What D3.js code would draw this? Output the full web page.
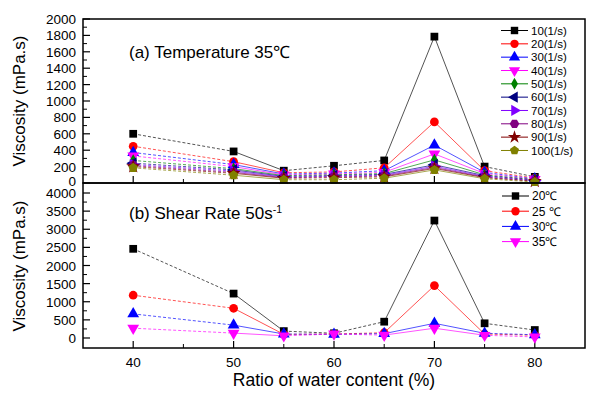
<!DOCTYPE html>
<html>
<head>
<meta charset="utf-8">
<script src="https://cdn.jsdelivr.net/npm/d3@7"></script>
<style>
  body { margin: 0; background: #fff; }
  text { font-family: "Liberation Sans", Arial, sans-serif; }
</style>
</head>
<body>
<div class="mainView"></div>
<script>
// water content ratio (%)
let ratios = [40, 50, 55, 60, 65, 70, 75, 80];

// panel (a): viscosity at 35C for different shear rates
let shearNames = ["10(1/s)", "20(1/s)", "30(1/s)", "40(1/s)", "50(1/s)",
                  "60(1/s)", "70(1/s)", "80(1/s)", "90(1/s)", "100(1/s)"];
let shear10  = [600, 385, 150, 210, 275, 1785, 200, 75];
let shear20  = [448, 260, 125, 135, 185, 745, 150, 60];
let shear30  = [372, 225, 110, 120, 150, 462, 130, 50];
let shear40  = [330, 200, 100, 110, 130, 355, 115, 45];
let shear50  = [275, 175, 90, 100, 115, 282, 100, 40];
let shear60  = [242, 160, 80, 90, 105, 222, 90, 35];
let shear70  = [225, 145, 72, 82, 95, 205, 80, 30];
let shear80  = [212, 130, 65, 75, 85, 190, 72, 25];
let shear90  = [200, 118, 58, 65, 75, 178, 65, 20];
let shear100 = [185, 95, 40, 40, 58, 160, 52, 12];

// panel (b): viscosity at shear rate 50 1/s for different temperatures
let tempNames = ["20\u2103", "25 \u2103", "30\u2103", "35\u2103"];
let temp20 = [2460, 1225, 190, 130, 450, 3240, 405, 220];
let temp25 = [1180, 820, 100, 110, 145, 1445, 110, 75];
let temp30 = [665, 355, 110, 100, 120, 405, 130, 90];
let temp35 = [270, 135, 60, 110, 80, 270, 75, 30];

let yTicksA = d3.range(0, 2001, 200);
let yTicksB = d3.range(0, 4001, 500);
let xTicks = [40, 50, 60, 70, 80];

function buildChart(){
    let width = 596, height = 398;
    let margin = { left: 83, right: 11 };
    let svg = d3.select(".mainView").append("svg")
        .attr("width", width).attr("height", height);

    let xScale = d3.scaleLinear().domain([35, 85]).range([margin.left, width - margin.right]);
    let yA = d3.scaleLinear().domain([0, 2000]).range([183, 19]);
    let yB = d3.scaleLinear().domain([-276, 4276]).range([348, 183]);

    let seriesA = [shear10, shear20, shear30, shear40, shear50, shear60, shear70, shear80, shear90, shear100];
    let colorsA = ["#000000", "#ff0000", "#0000ff", "#ff00ff", "#008000",
                   "#000080", "#8000ff", "#800080", "#800000", "#808000"];
    let shapesA = ["square", "circle", "up", "down", "diamond", "left", "right", "hexagon", "star", "pentagon"];

    let seriesB = [temp20, temp25, temp30, temp35];
    let colorsB = ["#000000", "#ff0000", "#0000ff", "#ff00ff"];
    let shapesB = ["square", "circle", "up", "down"];

    // which segment is dashed (the original plot mixes them)
    let dashedSeg = [true, false, true, true, false, false, true];

    drawPanel(svg, xScale, yA, yTicksA, 100, seriesA, colorsA, shapesA, dashedSeg, 183, 3);
    drawPanel(svg, xScale, yB, yTicksB, 250, seriesB, colorsB, shapesB, dashedSeg, 348, 5.5);

    // frames
    svg.append("rect").attr("x", xScale(35)).attr("y", yA(2000))
        .attr("width", xScale(85) - xScale(35)).attr("height", yA(0) - yA(2000))
        .attr("fill", "none").attr("stroke", "#000").attr("stroke-width", 1.5);
    svg.append("rect").attr("x", xScale(35)).attr("y", 183)
        .attr("width", xScale(85) - xScale(35)).attr("height", 348 - 183)
        .attr("fill", "none").attr("stroke", "#000").attr("stroke-width", 1.5);

    // x tick labels and title
    svg.selectAll(".xlab").data(xTicks).enter().append("text")
        .attr("x", d => xScale(d)).attr("y", 367)
        .attr("text-anchor", "middle").style("font-size", "13.5px")
        .text(d => d);
    svg.append("text").attr("x", 334).attr("y", 386).attr("text-anchor", "middle")
        .style("font-size", "17.5px").text("Ratio of water content (%)");

    // y titles
    svg.append("text").attr("transform", "translate(25,101) rotate(-90)")
        .attr("text-anchor", "middle").style("font-size", "17px").text("Viscosity (mPa.s)");
    svg.append("text").attr("transform", "translate(25,266) rotate(-90)")
        .attr("text-anchor", "middle").style("font-size", "17px").text("Viscosity (mPa.s)");

    // panel titles
    svg.append("text").attr("x", 129).attr("y", 58).style("font-size", "17px")
        .text("(a) Temperature 35\u2103");
    let tb = svg.append("text").attr("x", 129).attr("y", 219).style("font-size", "17px");
    tb.append("tspan").text("(b) Shear Rate 50s");
    tb.append("tspan").attr("dy", -6).style("font-size", "10.5px").text("-1");

    // legends
    legend(svg, shearNames, colorsA, shapesA, 501, 30.5, 13.33, 11.5);
    legend(svg, tempNames, colorsB, shapesB, 502, 196, 15.2, 12);
}

function symbolPath(shape, size){
    let s = size;
    let map = {
        square: d3.symbolSquare, circle: d3.symbolCircle, up: d3.symbolTriangle,
        down: d3.symbolTriangle, left: d3.symbolTriangle, right: d3.symbolTriangle,
        diamond: d3.symbolDiamond, star: d3.symbolStar
    };
    if (shape === "hexagon" || shape === "pentagon") {
        let n = shape === "hexagon" ? 6 : 5;
        let r = Math.sqrt(s / 2.4);
        let pts = d3.range(n).map(i => {
            let a = -Math.PI / 2 + i * 2 * Math.PI / n + (n === 6 ? Math.PI / 6 : 0);
            return [r * Math.cos(a), r * Math.sin(a)];
        });
        return "M" + pts.join("L") + "Z";
    }
    return d3.symbol().type(map[shape]).size(shape === "diamond" ? s * 0.75 : s)();
}

function rotateFor(shape){
    if (shape === "down") return " rotate(180)";
    if (shape === "left") return " rotate(-90)";
    if (shape === "right") return " rotate(90)";
    return "";
}

function drawPanel(svg, xScale, yScale, ticks, minorStep, series, colors, shapes, dashedSeg, axisY, labelDy){
    let x0 = xScale.range()[0];
    // y ticks (inward)
    let [lo, hi] = d3.extent(ticks);
    let minors = d3.range(lo, hi + 1, minorStep).filter(v => ticks.indexOf(v) < 0);
    svg.selectAll(null).data(ticks).enter().append("line")
        .attr("x1", x0).attr("x2", x0 + 7)
        .attr("y1", d => yScale(d)).attr("y2", d => yScale(d))
        .attr("stroke", "#000").attr("stroke-width", 1.2);
    svg.selectAll(null).data(minors).enter().append("line")
        .attr("x1", x0).attr("x2", x0 + 4)
        .attr("y1", d => yScale(d)).attr("y2", d => yScale(d))
        .attr("stroke", "#000").attr("stroke-width", 1);
    svg.selectAll(null).data(ticks).enter().append("text")
        .attr("x", 76).attr("y", d => yScale(d) + (d === lo ? labelDy : 5))
        .attr("text-anchor", "end").style("font-size", "13.5px")
        .text(d => d);

    // x ticks (inward)
    let xMajor = d3.range(40, 81, 10), xMinor = d3.range(45, 81, 10);
    svg.selectAll(null).data(xMajor).enter().append("line")
        .attr("x1", d => xScale(d)).attr("x2", d => xScale(d))
        .attr("y1", axisY).attr("y2", axisY - 7)
        .attr("stroke", "#000").attr("stroke-width", 1.2);
    svg.selectAll(null).data(xMinor).enter().append("line")
        .attr("x1", d => xScale(d)).attr("x2", d => xScale(d))
        .attr("y1", axisY).attr("y2", axisY - 4)
        .attr("stroke", "#000").attr("stroke-width", 1);

    // lines, drawn segment by segment
    series.forEach((vals, k) => {
        for (let i = 0; i < ratios.length - 1; i++) {
            svg.append("line")
                .attr("x1", xScale(ratios[i])).attr("y1", yScale(vals[i]))
                .attr("x2", xScale(ratios[i + 1])).attr("y2", yScale(vals[i + 1]))
                .attr("stroke", colors[k]).attr("stroke-width", 0.8)
                .attr("stroke-opacity", 0.85)
                .attr("stroke-dasharray", dashedSeg[i] ? "3,2" : null);
        }
    });
    // markers on top
    series.forEach((vals, k) => {
        svg.selectAll(null).data(vals).enter().append("path")
            .attr("d", symbolPath(shapes[k], 60))
            .attr("transform", (d, i) => "translate(" + xScale(ratios[i]) + "," + yScale(d) + ")" + rotateFor(shapes[k]))
            .attr("fill", colors[k]);
    });
}

function legend(svg, names, colors, shapes, x, y, step, fs){
    names.forEach((n, i) => {
        let cy = y + i * step;
        svg.append("line").attr("x1", x).attr("x2", x + 27)
            .attr("y1", cy).attr("y2", cy)
            .attr("stroke", colors[i]).attr("stroke-width", 1);
        svg.append("path").attr("d", symbolPath(shapes[i], 55))
            .attr("transform", "translate(" + (x + 13.5) + "," + cy + ")" + rotateFor(shapes[i]))
            .attr("fill", colors[i]);
        svg.append("text").attr("x", x + 30).attr("y", cy + fs * 0.36)
            .style("font-size", fs + "px").text(n);
    });
}

buildChart();
</script>
</body>
</html>
